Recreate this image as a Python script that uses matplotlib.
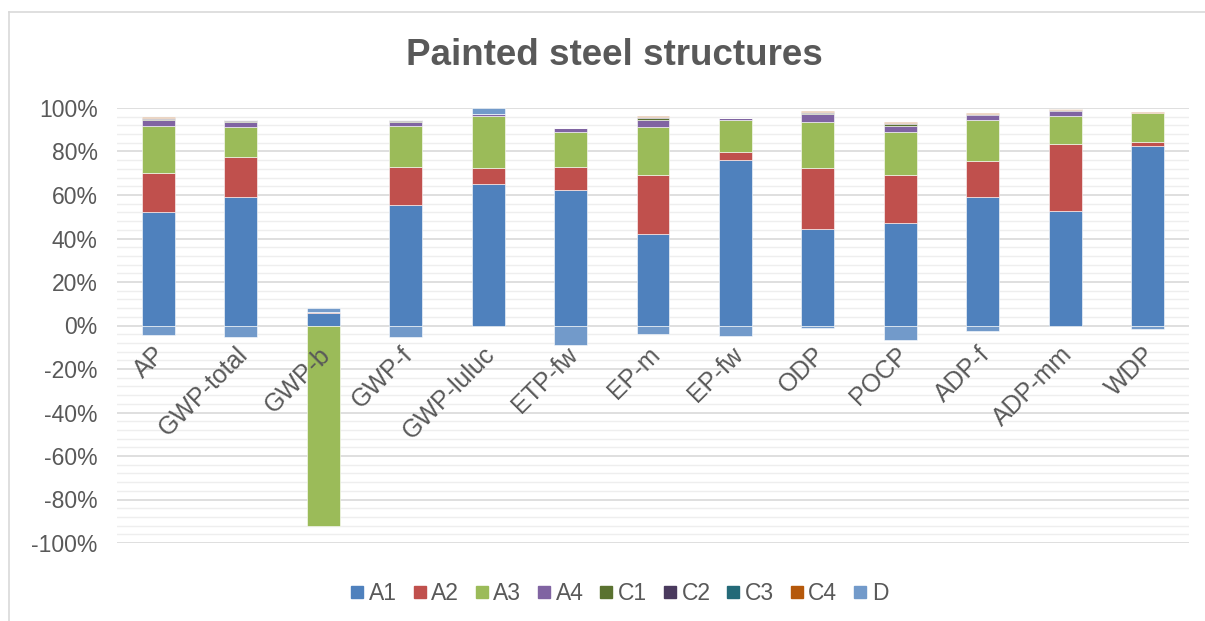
import numpy as np
import matplotlib.pyplot as plt
from matplotlib.lines import Line2D
from matplotlib.ticker import MultipleLocator, FuncFormatter
import matplotlib.transforms as mtransforms

plt.rcParams['font.family'] = ['Liberation Sans', 'DejaVu Sans']

categories = ["AP", "GWP-total", "GWP-b", "GWP-f", "GWP-luluc", "ETP-fw", "EP-m",
              "EP-fw", "ODP", "POCP", "ADP-f", "ADP-mm", "WDP"]

# shares in % per life-cycle module
A1 = [52.2, 59.3, 5.7, 55.6, 65.1, 62.4, 41.9, 75.9, 44.5, 47.3, 59.3, 52.8, 82.3]
A2 = [18.0, 18.3, 0.3, 17.2, 7.2, 10.7, 27.4, 4.0, 28.0, 22.1, 16.4, 30.8, 1.9]
A3 = [21.5, 13.6, -92.0, 18.9, 23.9, 16.0, 21.8, 14.6, 21.0, 19.7, 18.8, 12.6, 13.3]
A4 = [2.8, 2.5, 0.0, 2.0, 0.9, 1.5, 3.2, 0.7, 3.7, 2.7, 2.1, 2.4, 0.2]
C1 = [0.5, 0.3, 0.0, 0.2, 0.1, 0.1, 1.0, 0.1, 0.3, 0.7, 0.2, 0.2, 0.1]
C2 = [0.3, 0.3, 0.0, 0.5, 0.1, 0.2, 0.6, 0.1, 0.6, 0.5, 0.4, 0.4, 0.1]
C3 = [0.1, 0.05, 0.0, 0.05, 0.0, 0.0, 0.1, 0.0, 0.1, 0.1, 0.1, 0.1, 0.0]
C4 = [0.3, 0.15, 0.0, 0.15, 0.1, 0.1, 0.3, 0.1, 0.4, 0.4, 0.2, 0.2, 0.2]
D = [-4.2, -5.4, 2.0, -5.4, 2.6, -8.9, -3.7, -4.6, -1.2, -6.5, -2.5, 0.0, -1.8]

series = [("A1", A1, "#4F81BD"), ("A2", A2, "#C0504D"), ("A3", A3, "#9BBB59"),
          ("A4", A4, "#8064A2"), ("C1", C1, "#5A7230"), ("C2", C2, "#4A3A5E"),
          ("C3", C3, "#246A78"), ("C4", C4, "#B5580A"), ("D", D, "#729ACA")]

grey = "#595959"

fig = plt.figure(figsize=(12.05, 6.21), dpi=100)
ax = fig.add_axes([117 / 1205, 1 - 543 / 621, 1072 / 1205, 435 / 621])

x = np.arange(len(categories))
pos = np.zeros(len(categories))
neg = np.zeros(len(categories))
for name, vals, col in series:
    v = np.array(vals, dtype=float)
    bottom = np.where(v >= 0, pos, neg)
    ax.bar(x, v, 0.4, bottom=bottom, color=col, edgecolor="white",
           linewidth=0.4, zorder=3)
    pos += np.where(v >= 0, v, 0)
    neg += np.where(v < 0, v, 0)

ax.set_xlim(-0.5, len(categories) - 0.5)
ax.set_ylim(-100, 100)
ax.yaxis.set_major_locator(MultipleLocator(20))
ax.yaxis.set_minor_locator(MultipleLocator(4))
ax.yaxis.set_major_formatter(FuncFormatter(lambda v, p: f"{v:.0f}%"))
ax.grid(axis="y", which="major", color="#D9D9D9", linewidth=1.2, zorder=0)
ax.grid(axis="y", which="minor", color="#EEEEEE", linewidth=1.0, zorder=0)
ax.tick_params(axis="y", which="both", length=0, pad=14, labelsize=16.5, labelcolor=grey)
ax.set_xticks([])
for s in ax.spines.values():
    s.set_visible(False)

# category labels hang from the zero line, drawn over the bars
off = mtransforms.offset_copy(ax.transData, fig=fig, x=-5, y=-17, units="dots")
for i, c in enumerate(categories):
    ax.text(i, 0, c, transform=off, rotation=45, rotation_mode="anchor",
            ha="right", va="top", fontsize=18, color=grey, zorder=4)

fig.text(0.51, 0.91, "Painted steel structures", ha="center", va="center",
         fontsize=26.5, fontweight="bold", color=grey)

handles = [Line2D([], [], marker="s", linestyle="", markersize=9,
                  markerfacecolor=col, markeredgecolor=col) for _, _, col in series]
fig.legend(handles, [n for n, _, _ in series], loc="center", bbox_to_anchor=(0.512, 0.045),
           ncol=9, frameon=False, fontsize=16.5, handletextpad=0.0, columnspacing=0.5,
           labelcolor=grey, handlelength=1.0)

# chart area border
fig.add_artist(Line2D([9 / 1205, 9 / 1205], [0, 1 - 12 / 621], color="#D9D9D9",
                      linewidth=1.2, transform=fig.transFigure))
fig.add_artist(Line2D([9 / 1205, 1], [1 - 12 / 621, 1 - 12 / 621], color="#D9D9D9",
                      linewidth=1.2, transform=fig.transFigure))

fig.savefig("out.png", dpi=100)
